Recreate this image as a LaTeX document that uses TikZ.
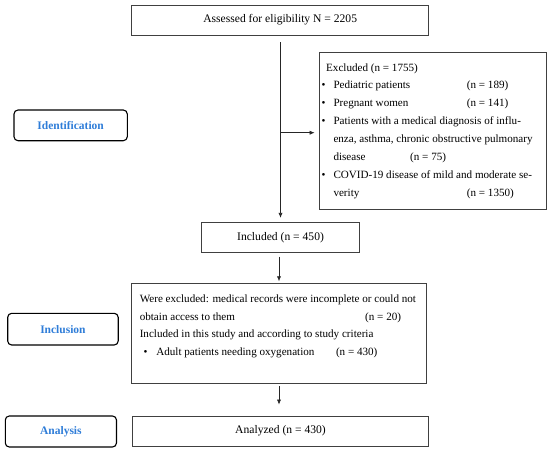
\documentclass[tikz,border=0pt]{standalone}
\usepackage{fontspec}
\setmainfont{Liberation Serif}
\usetikzlibrary{arrows.meta}
\definecolor{labblue}{HTML}{2F7DD8}
\definecolor{boxline}{HTML}{404040}
\begin{document}
\begin{tikzpicture}[x=1pt,y=-1pt,
  box/.style={draw=boxline,line width=0.8pt,inner sep=0pt},
  lab/.style={draw=black,line width=1.1pt,rounded corners=4pt,inner sep=0pt,
    font=\fontsize{11.5}{13}\selectfont\bfseries,text=labblue},
  txt/.style={anchor=base west,inner sep=0pt,font=\fontsize{11.1}{12}\selectfont},
  ctxt/.style={inner sep=0pt,font=\fontsize{11.6}{13}\selectfont},
  arr/.style={draw=black!85,line width=0.7pt,-{Latex[length=5pt,width=4.2pt]}}]
\useasboundingbox (0,0) rectangle (550,451);
% boxes
\node[box,minimum width=297.2pt,minimum height=30pt] (top) at (280.2,20) {};
\node[ctxt] (toptxt) at (280.2,20) {Assessed for eligibility N = 2205};
\node[box,minimum width=227.5pt,minimum height=156.6pt] (excl) at (432.75,131) {};
\node[box,minimum width=157.5pt,minimum height=29.6pt] (incl) at (280.55,237.5) {};
\node[ctxt] (incltxt) at (280.55,237.5) {Included (n = 450)};
\node[box,minimum width=294.7pt,minimum height=100pt] (cont) at (278.95,333.3) {};
\node[box,minimum width=296.5pt,minimum height=30pt] (anal) at (280.55,431) {};
\node[ctxt] (analtxt) at (280.55,431) {Analyzed (n = 430)};
% labels
\node[lab,minimum width=113.3pt,minimum height=30.7pt] (ident) at (70.65,125.35) {Identification};
\node[lab,minimum width=110.5pt,minimum height=31.7pt] (inclus) at (62.95,329.15) {Inclusion};
\node[lab,minimum width=111.2pt,minimum height=31pt] (analys) at (60.9,431.5) {Analysis};
% excluded text
\node[txt] (e1) at (326,71) {Excluded (n = 1755)};
\node[txt] (b2) at (321.5,88.9) {\textbullet};
\node[txt] (e2) at (333.3,88.9) {Pediatric patients};
\node[txt] (n2) at (466.7,88.9) {(n = 189)};
\node[txt] (b3) at (321.5,106.7) {\textbullet};
\node[txt] (e3) at (333.3,106.7) {Pregnant women};
\node[txt] (n3) at (466.7,106.7) {(n = 141)};
\node[txt] (b4) at (321.5,124.6) {\textbullet};
\node[txt] (e4) at (333.3,124.6) {Patients with a medical diagnosis of influ-};
\node[txt] (e5) at (333.3,142.4) {enza, asthma, chronic obstructive pulmonary};
\node[txt] (e6) at (333.3,160.3) {disease};
\node[txt] (n6) at (410,160.3) {(n = 75)};
\node[txt] (b7) at (321.5,178.1) {\textbullet};
\node[txt] (e7) at (333.3,178.1) {COVID-19 disease of mild and moderate se-};
\node[txt] (e8) at (333.3,196) {verity};
\node[txt] (n8) at (466.7,196) {(n = 1350)};
% inclusion text
\node[txt] (c1) at (139.6,302.5) {Were excluded: medical records were incomplete or could not};
\node[txt] (c2) at (139.6,320.2) {obtain access to them};
\node[txt] (n20) at (365,320.2) {(n = 20)};
\node[txt] (c3) at (139.6,337.8) {Included in this study and according to study criteria};
\node[txt] (b4c) at (143.5,355.2) {\textbullet};
\node[txt] (c4) at (156.1,355.2) {Adult patients needing oxygenation};
\node[txt] (n430) at (335.8,355.2) {(n = 430)};
% connectors
\coordinate (v0) at (280.5,42.3);
\coordinate (vb) at (280.5,132.7);
\draw[arr,shorten >=4.4pt] (v0) -- (v0 |- incl.north);
\draw[arr,shorten >=4pt] (vb) -- (vb -| excl.west);
\coordinate (w0) at (279,256.7);
\draw[arr,shorten >=1.6pt] (w0) -- (w0 |- cont.north);
\coordinate (w1) at (279,386);
\draw[arr,shorten >=11pt] (w1) -- (w1 |- anal.north);
\end{tikzpicture}
\end{document}
